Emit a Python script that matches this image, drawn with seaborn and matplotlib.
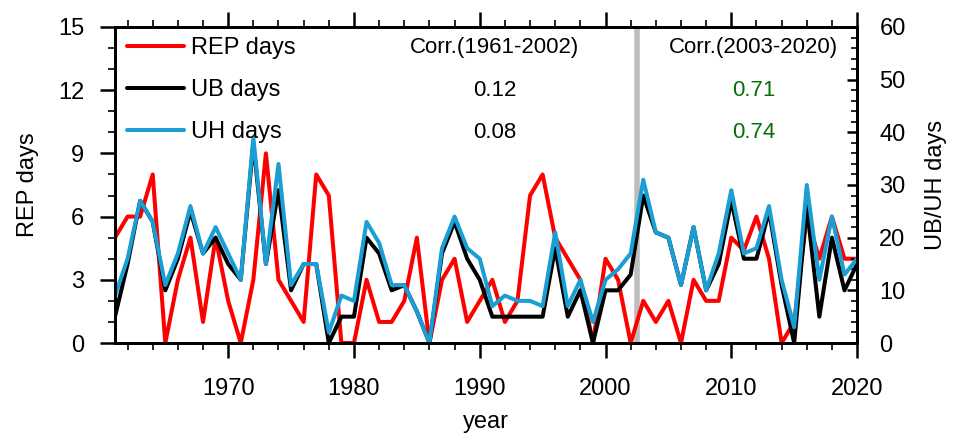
import numpy as np
import pandas as pd
import matplotlib
matplotlib.use("Agg")
import matplotlib.pyplot as plt
from matplotlib.ticker import MultipleLocator
import seaborn as sns

# годы и ряды
years = list(range(1961, 2021))
rep_days = [5, 6, 6, 8, 0, 3, 5, 1, 5, 2,
            0, 3, 9, 3, 2, 1, 8, 7, 0, 0,
            3, 1, 1, 2, 5, 0, 3, 4, 1, 2,
            3, 1, 2, 7, 8, 5, 4, 3, 0, 4,
            3, 0, 2, 1, 2, 0, 3, 2, 2, 5,
            4.4, 6, 4, 0, 1, 6, 4, 6, 4, 4]
ub_days = [5, 15, 27, 23, 10, 16, 25, 17, 20, 15,
           12, 38, 15, 29, 10, 15, 15, 0, 5, 5,
           20, 17, 10, 11, 6, 0, 17, 23, 16, 12,
           5, 5, 5, 5, 5, 18, 5, 10, 0, 10,
           10, 13, 28, 21, 20, 11, 22, 10, 15, 27,
           16, 16, 25, 11, 0, 26, 5, 20, 10, 15]
uh_days = [9, 16, 27, 23, 11, 17, 26, 17, 22, 17,
           12, 39, 15, 34, 11, 15, 15, 2, 9, 8,
           23, 19, 11, 11, 6, 0, 18, 24, 18, 16,
           7, 9, 8, 8, 7, 21, 7, 12, 4, 12,
           14, 17, 31, 21, 20, 11, 22, 10, 17, 29,
           17, 18, 26, 12, 3, 30, 12, 24, 13, 16]

corr_titles = ["Corr.(1961-2002)", "Corr.(2003-2020)"]
corr_ub = ["0.12", "0.71"]
corr_uh = ["0.08", "0.74"]
split_year = 2002.5

df = pd.DataFrame({"year": years, "REP": rep_days, "UB": ub_days, "UH": uh_days})

sns.set_style("ticks")
plt.rcParams["font.family"] = ["Liberation Sans", "DejaVu Sans"]
plt.rcParams["text.color"] = "black"
plt.rcParams["axes.labelcolor"] = "black"
plt.rcParams["xtick.color"] = "black"
plt.rcParams["ytick.color"] = "black"
plt.rcParams["axes.edgecolor"] = "black"

fig = plt.figure(figsize=(9.63, 4.41), dpi=100)
ax = fig.add_axes([0.1194, 0.2222, 0.7706, 0.7166])
ax2 = ax.twinx()

lw = 2.9
ax.axvline(split_year, color="#bdbdbd", lw=4, zorder=0)
sns.lineplot(data=df, x="year", y="REP", ax=ax, color="#ff0000", lw=lw, label="REP days", legend=False)
sns.lineplot(data=df, x="year", y="UB", ax=ax2, color="black", lw=lw, label="UB days", legend=False)
sns.lineplot(data=df, x="year", y="UH", ax=ax2, color="#1a9ed4", lw=lw, label="UH days", legend=False)

ax.set_xlim(1961, 2020)
ax.set_ylim(0, 15)
ax2.set_ylim(0, 60)

ax.xaxis.set_major_locator(MultipleLocator(10))
ax.xaxis.set_minor_locator(MultipleLocator(2))
ax.yaxis.set_major_locator(MultipleLocator(3))
ax.yaxis.set_minor_locator(MultipleLocator(1))
ax2.yaxis.set_major_locator(MultipleLocator(10))
ax2.yaxis.set_minor_locator(MultipleLocator(2))

ax.tick_params(axis="both", which="major", labelsize=17, length=11, width=1.8, direction="out", pad=11)
ax.tick_params(axis="x", which="major", pad=14)
ax.tick_params(axis="both", which="minor", length=5, width=1.2, direction="out")
ax.tick_params(axis="x", which="both", top=True)
ax2.tick_params(axis="y", which="major", labelsize=17, length=7, width=1.8, direction="in", pad=16)
ax2.tick_params(axis="y", which="minor", length=4, width=1.2, direction="in")

for a in (ax, ax2):
    for s in a.spines.values():
        s.set_linewidth(2)
        s.set_color("black")

ax.set_xlabel("year", fontsize=17, labelpad=8)
ax.set_ylabel("REP days", fontsize=17, labelpad=14)
ax2.set_ylabel("UB/UH days", fontsize=17, labelpad=14)

# легенда
handles = ax.get_lines()[1:] + ax2.get_lines()
ax2.legend(handles=handles, labels=["REP days", "UB days", "UH days"],
           loc="upper left", bbox_to_anchor=(-0.006, 1.02), frameon=False,
           fontsize=17, handlelength=2.4, handletextpad=0.3, labelspacing=0.85,
           borderaxespad=0.3)

# корреляции
xs = [1991.2, 2011.8]
cols = ["black", "#0a6e0a"]
for i in range(2):
    ax.text(xs[i], 14.05, corr_titles[i], ha="center", va="center", fontsize=16)
    ax.text(xs[i], 12.0, corr_ub[i], ha="center", va="center", fontsize=16, color=cols[i])
    ax.text(xs[i], 10.0, corr_uh[i], ha="center", va="center", fontsize=16, color=cols[i])

fig.savefig("out.png", dpi=100)
